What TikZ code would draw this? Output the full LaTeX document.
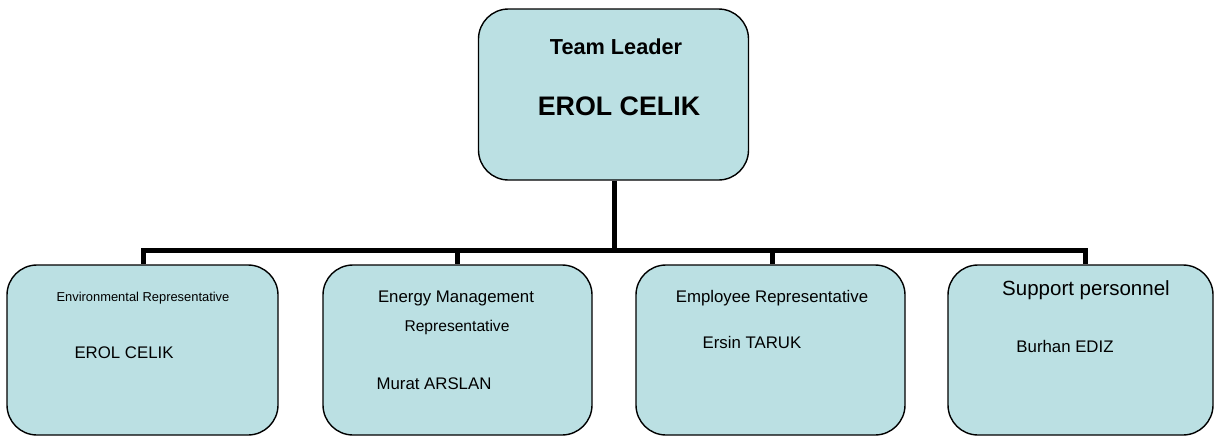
\documentclass[tikz,border=0pt]{standalone}
\usepackage{fontspec}
\setmainfont{Liberation Sans}
\definecolor{boxfill}{HTML}{BBE0E3}
\begin{document}
\begin{tikzpicture}[x=1pt,y=-1pt,
  card/.style={draw=black, line width=1.4pt, fill=boxfill, rounded corners=30pt, inner sep=0pt},
  wire/.style={line width=5pt, draw=black},
  lbl/.style={anchor=base, inner sep=0pt, text=black},
  fs/.style={font=\fontsize{#1}{#1}\selectfont}]
\useasboundingbox (0,0) rectangle (1215,437);
% boxes
\node[card, minimum width=270pt, minimum height=171pt] (top) at (613.5,94.5) {};
\node[card, minimum width=271pt, minimum height=170pt] (e1) at (142.5,350) {};
\node[card, minimum width=269pt, minimum height=170pt] (e2) at (457.5,350) {};
\node[card, minimum width=269pt, minimum height=170pt] (e3) at (770.5,350) {};
\node[card, minimum width=265pt, minimum height=170pt] (e4) at (1080.5,350) {};
% bus
\coordinate (b1) at (143,250);
\coordinate (b2) at (457,250);
\coordinate (b3) at (772,250);
\coordinate (b4) at (1085,250);
\coordinate (bt) at (614,250);
\draw[wire] (top.south -| bt) -- (bt);
\draw[wire, line cap=rect] (b1) -- (b4);
\draw[wire] (b1) -- (b1 |- e1.north);
\draw[wire] (b2) -- (b2 |- e2.north);
\draw[wire] (b3) -- (b3 |- e3.north);
\draw[wire] (b4) -- (b4 |- e4.north);
% texts
\node[lbl, fs=21.7, font=\bfseries\fontsize{21.7}{22}\selectfont] (t1) at (616,54) {Team Leader};
\node[lbl, font=\bfseries\fontsize{26.8}{27}\selectfont] (t2) at (619,115) {EROL CELIK};
\node[lbl, fs=12.9] (l1a) at (143,301) {Environmental Representative};
\node[lbl, fs=16.8] (l1b) at (124,358) {EROL CELIK};
\node[lbl, fs=16.8] (l2a) at (456,302) {Energy Management};
\node[lbl, fs=15.6] (l2b) at (457,331) {Representative};
\node[lbl, fs=16.8] (l2c) at (434,389) {Murat ARSLAN};
\node[lbl, fs=16.8] (l3a) at (772,302) {Employee Representative};
\node[lbl, fs=16.8] (l3b) at (752,348) {Ersin TARUK};
\node[lbl, fs=20.5] (l4a) at (1086,295) {Support personnel};
\node[lbl, fs=16.8] (l4b) at (1065,352) {Burhan EDIZ};
\end{tikzpicture}
\end{document}
